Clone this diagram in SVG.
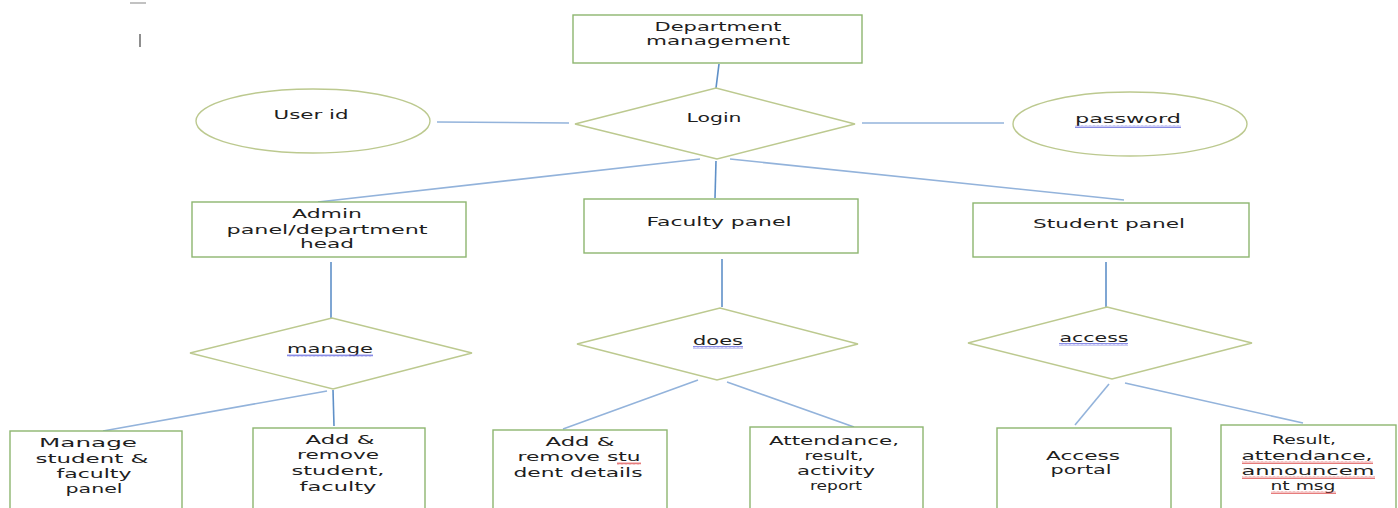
<svg xmlns="http://www.w3.org/2000/svg" width="1398" height="508" viewBox="0 0 1398 508">
<defs>
<style>
.box{fill:#fff;stroke:#8db66f;stroke-width:1.4}
.dia{fill:#fff;stroke:#bcc98f;stroke-width:1.4}
.con{stroke:#93b3db;stroke-width:1.6;fill:none}
.vcon{stroke:#5f90c8;stroke-width:1.6;fill:none}
text{font-family:"DejaVu Sans","Liberation Sans",sans-serif;font-size:12.5px;fill:#1e1e1e;text-anchor:middle}
</style>
<pattern id="waveB" width="4" height="3" patternUnits="userSpaceOnUse">
<path d="M0 2.5 L1 0.5 L2 2.5 L3 0.5 L4 2.5" stroke="#6b6fe0" stroke-width="0.8" fill="none"/>
</pattern>
<pattern id="waveR" width="4" height="3" patternUnits="userSpaceOnUse">
<path d="M0 2.5 L1 0.5 L2 2.5 L3 0.5 L4 2.5" stroke="#e05a5a" stroke-width="0.8" fill="none"/>
</pattern>
</defs>
<rect width="1398" height="508" fill="#fff"/>
<g id="marks" stroke="#444" stroke-width="1.2">
<line x1="130" y1="3" x2="146" y2="3" stroke="#999"/>
<line x1="140" y1="34" x2="140" y2="47"/>
</g>
<g id="connectors">
<line class="vcon" x1="719" y1="64" x2="716" y2="88"/>
<line class="con" x1="437" y1="122" x2="569" y2="123"/>
<line class="con" x1="862" y1="123" x2="1004" y2="123"/>
<line class="con" x1="700" y1="159" x2="318" y2="202"/>
<line class="vcon" x1="716" y1="161" x2="715" y2="198"/>
<line class="con" x1="730" y1="159" x2="1124" y2="200"/>
<line class="vcon" x1="331" y1="262" x2="331" y2="318"/>
<line class="vcon" x1="722" y1="259" x2="722" y2="307"/>
<line class="vcon" x1="1106" y1="262" x2="1106" y2="307"/>
<line class="con" x1="327" y1="391" x2="103" y2="431"/>
<line class="vcon" x1="333" y1="390" x2="334" y2="426"/>
<line class="con" x1="698" y1="380" x2="563" y2="429"/>
<line class="con" x1="727" y1="382" x2="854" y2="427"/>
<line class="con" x1="1109" y1="384" x2="1075" y2="425"/>
<line class="con" x1="1125" y1="383" x2="1303" y2="423"/>
</g>
<g id="dept">
<rect class="box" x="573" y="15" width="289" height="48"/>
<text x="718" y="31" textLength="127" lengthAdjust="spacingAndGlyphs">Department</text>
<text x="718" y="45" textLength="144" lengthAdjust="spacingAndGlyphs">management</text>
</g>
<g id="login">
<polygon class="dia" points="575,124 716,88 855,124 717,159"/>
<text x="714" y="122" textLength="55" lengthAdjust="spacingAndGlyphs">Login</text>
</g>
<g id="userid">
<ellipse class="dia" cx="313" cy="121" rx="117" ry="32"/>
<text x="311" y="119" textLength="75" lengthAdjust="spacingAndGlyphs">User id</text>
</g>
<g id="password">
<ellipse class="dia" cx="1130" cy="124" rx="117" ry="32"/>
<text x="1128" y="123" textLength="106" lengthAdjust="spacingAndGlyphs">password</text>
<rect x="1075" y="125" width="106" height="3" fill="url(#waveB)"/>
</g>
<g id="admin">
<rect class="box" x="192" y="202" width="274" height="55"/>
<text x="327" y="218" textLength="70" lengthAdjust="spacingAndGlyphs">Admin</text>
<text x="327" y="234" textLength="201" lengthAdjust="spacingAndGlyphs">panel/department</text>
<text x="327" y="248" textLength="54" lengthAdjust="spacingAndGlyphs">head</text>
</g>
<g id="faculty">
<rect class="box" x="584" y="199" width="274" height="54"/>
<text x="719" y="226" textLength="145" lengthAdjust="spacingAndGlyphs">Faculty panel</text>
</g>
<g id="student">
<rect class="box" x="973" y="203" width="276" height="54"/>
<text x="1109" y="228" textLength="152" lengthAdjust="spacingAndGlyphs">Student panel</text>
</g>
<g id="manage">
<polygon class="dia" points="190,353 332,318 472,353 333,389"/>
<text x="330" y="353" textLength="86" lengthAdjust="spacingAndGlyphs">manage</text>
<rect x="287" y="354" width="86" height="3" fill="url(#waveB)"/>
</g>
<g id="does">
<polygon class="dia" points="577,344 720,308 858,344 717,380"/>
<text x="718" y="345" textLength="50" lengthAdjust="spacingAndGlyphs">does</text>
<rect x="693" y="346" width="50" height="3" fill="url(#waveB)"/>
</g>
<g id="access">
<polygon class="dia" points="968,343 1107,307 1252,343 1112,379"/>
<text x="1094" y="342" textLength="69" lengthAdjust="spacingAndGlyphs">access</text>
<rect x="1059" y="343" width="69" height="3" fill="url(#waveB)"/>
</g>
<g id="manage-panel">
<rect class="box" x="10" y="431" width="172" height="82"/>
<text x="88" y="447" textLength="98" lengthAdjust="spacingAndGlyphs">Manage</text>
<text x="92" y="463" textLength="113" lengthAdjust="spacingAndGlyphs">student &amp;</text>
<text x="94" y="478" textLength="75" lengthAdjust="spacingAndGlyphs">faculty</text>
<text x="94" y="493" textLength="57" lengthAdjust="spacingAndGlyphs">panel</text>
</g>
<g id="add-remove">
<rect class="box" x="253" y="428" width="172" height="85"/>
<text x="340" y="444" textLength="69" lengthAdjust="spacingAndGlyphs">Add &amp;</text>
<text x="338" y="459" textLength="82" lengthAdjust="spacingAndGlyphs">remove</text>
<text x="338" y="475" textLength="93" lengthAdjust="spacingAndGlyphs">student,</text>
<text x="338" y="491" textLength="77" lengthAdjust="spacingAndGlyphs">faculty</text>
</g>
<g id="add-remove-stu">
<rect class="box" x="493" y="430" width="174" height="83"/>
<text x="580" y="446" textLength="69" lengthAdjust="spacingAndGlyphs">Add &amp;</text>
<text x="579" y="461" textLength="123" lengthAdjust="spacingAndGlyphs">remove stu</text>
<rect x="617" y="462" width="24" height="3" fill="url(#waveR)"/>
<text x="578" y="477" textLength="129" lengthAdjust="spacingAndGlyphs">dent details</text>
</g>
<g id="attendance-report">
<rect class="box" x="750" y="427" width="173" height="86"/>
<text x="834" y="445" textLength="130" lengthAdjust="spacingAndGlyphs">Attendance,</text>
<text x="834" y="460" textLength="59" lengthAdjust="spacingAndGlyphs">result,</text>
<text x="836" y="475" textLength="78" lengthAdjust="spacingAndGlyphs">activity</text>
<text x="836" y="490" textLength="52" lengthAdjust="spacingAndGlyphs">report</text>
</g>
<g id="access-portal">
<rect class="box" x="997" y="428" width="174" height="85"/>
<text x="1083" y="460" textLength="74" lengthAdjust="spacingAndGlyphs">Access</text>
<text x="1081" y="474" textLength="61" lengthAdjust="spacingAndGlyphs">portal</text>
</g>
<g id="result-msg">
<rect class="box" x="1221" y="425" width="175" height="88"/>
<text x="1304" y="444" textLength="64" lengthAdjust="spacingAndGlyphs">Result,</text>
<text x="1307" y="460" textLength="131" lengthAdjust="spacingAndGlyphs">attendance,</text>
<rect x="1242" y="461" width="131" height="3" fill="url(#waveR)"/>
<text x="1308" y="475" textLength="133" lengthAdjust="spacingAndGlyphs">announcem</text>
<rect x="1242" y="476" width="133" height="3" fill="url(#waveR)"/>
<text x="1303" y="490" textLength="65" lengthAdjust="spacingAndGlyphs">nt msg</text>
<rect x="1271" y="491" width="65" height="3" fill="url(#waveR)"/>
</g>
</svg>
